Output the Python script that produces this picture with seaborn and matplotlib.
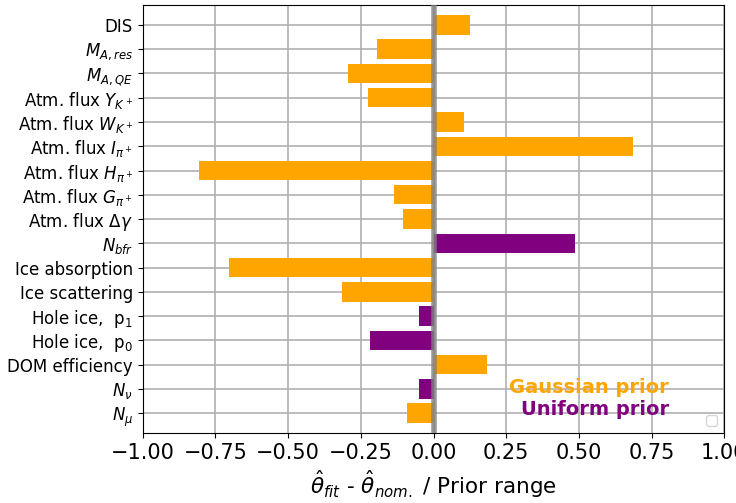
import numpy as np
import pandas as pd
import matplotlib
matplotlib.use("Agg")
import matplotlib.pyplot as plt
import seaborn as sns

# parameters, top to bottom
params = [
    "DIS",
    r"$M_{A,res}$",
    r"$M_{A,QE}$",
    r"Atm. flux $Y_{K^+}$",
    r"Atm. flux $W_{K^+}$",
    r"Atm. flux $I_{\pi^+}$",
    r"Atm. flux $H_{\pi^+}$",
    r"Atm. flux $G_{\pi^+}$",
    r"Atm. flux $\Delta\gamma$",
    r"$N_{bfr}$",
    "Ice absorption",
    "Ice scattering",
    r"Hole ice,  $\mathrm{p_1}$",
    r"Hole ice,  $\mathrm{p_0}$",
    "DOM efficiency",
    r"$N_{\nu}$",
    r"$N_{\mu}$",
]
pulls = [0.125, -0.195, -0.295, -0.225, 0.105, 0.685, -0.805, -0.135, -0.105,
         0.485, -0.705, -0.315, -0.05, -0.22, 0.185, -0.05, -0.09]
prior = ["Gaussian", "Gaussian", "Gaussian", "Gaussian", "Gaussian", "Gaussian",
         "Gaussian", "Gaussian", "Gaussian", "Uniform", "Gaussian", "Gaussian",
         "Uniform", "Uniform", "Gaussian", "Uniform", "Gaussian"]
colors = {"Gaussian": "orange", "Uniform": "purple"}

df = pd.DataFrame({"param": params, "pull": pulls, "prior": prior})

fig = plt.figure(figsize=(7.36, 5.03), dpi=100)
ax = fig.add_axes([0.194, 0.139, 0.790, 0.851])

sns.barplot(data=df, x="pull", y="param", hue="prior", palette=colors,
            orient="h", dodge=False, width=0.8, saturation=1, legend=False, ax=ax)

ax.axvline(0, color="gray", lw=4, alpha=0.8, zorder=3)
ax.set_xlim(-1, 1)
ax.set_ylim(len(params) - 1 + 0.82, -0.82)
ax.set_axisbelow(True)
ax.grid(True, color="#b0b0b0", lw=1.2)
ax.tick_params(axis="x", labelsize=15)
ax.tick_params(axis="y", labelsize=12)
ax.set_ylabel("")
ax.set_xlabel(r"$\hat{\theta}_{fit}$ - $\hat{\theta}_{nom.}$ / Prior range", fontsize=15.5)

ax.text(0.905, 0.107, "Gaussian prior", color="orange", fontsize=14, fontweight="bold",
        ha="right", va="center", transform=ax.transAxes)
ax.text(0.905, 0.054, "Uniform prior", color="purple", fontsize=14, fontweight="bold",
        ha="right", va="center", transform=ax.transAxes)
ax.legend(handles=[], loc="lower right")

fig.savefig("out.png", dpi=100)
